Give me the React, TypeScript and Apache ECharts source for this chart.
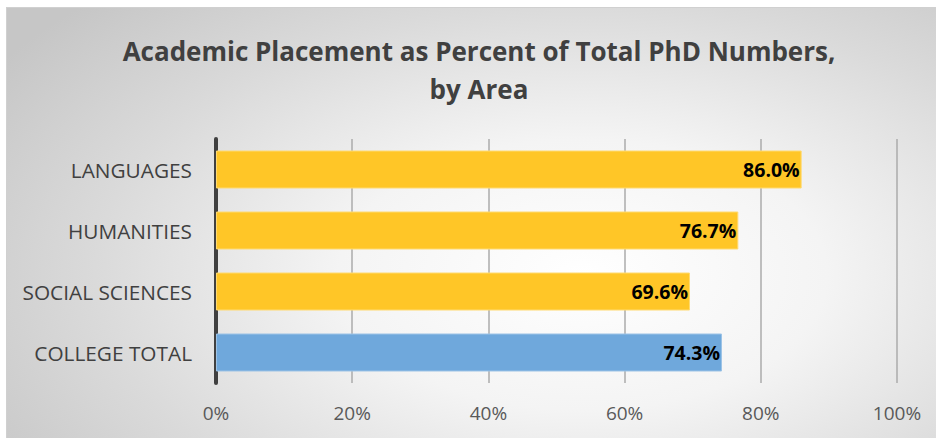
import React, { useEffect, useRef } from "react";
import * as echarts from "echarts";

const categories = ["COLLEGE TOTAL", "SOCIAL SCIENCES", "HUMANITIES", "LANGUAGES"];
const values = [74.3, 69.6, 76.7, 86.0];
const barColors = ["#6FA8DC", "#FFC627", "#FFC627", "#FFC627"];
const borderColors = ["#9DC3E6", "#FFDA70", "#FFDA70", "#FFDA70"];
const titleLines = ["Academic Placement as Percent of Total PhD Numbers,", "by Area"];

export default function App() {
  const ref = useRef<HTMLDivElement>(null);
  useEffect(() => {
    if (!ref.current) return;
    const chart = echarts.init(ref.current, undefined, { renderer: "svg" });
    chart.setOption({
      animation: false,
      backgroundColor: "transparent",
      graphic: titleLines.map((t, i) => ({
        type: "text",
        x: 472,
        y: 43 + i * 38,
        style: {
          text: t,
          fontFamily: "Open Sans",
          fontWeight: "bold",
          fontSize: 26,
          fill: "#404040",
          textAlign: "center",
          textVerticalAlign: "middle",
        },
      })),
      grid: { left: 209, right: 39, top: 131, bottom: 55, containLabel: false },
      xAxis: {
        type: "value",
        min: 0,
        max: 100,
        interval: 20,
        axisLine: { show: false },
        axisTick: { show: false },
        splitLine: { show: true, lineStyle: { color: "#ABABAB", width: 1.5 } },
        axisLabel: {
          formatter: "{value}%",
          fontFamily: "Open Sans",
          fontSize: 19,
          color: "#595959",
          margin: 20,
        },
      },
      yAxis: {
        type: "category",
        data: categories,
        axisLine: { show: true, lineStyle: { color: "#404040", width: 4 } },
        axisTick: { show: false },
        axisLabel: {
          fontFamily: "Open Sans",
          fontSize: 20.8,
          color: "#404040",
          margin: 24,
        },
      },
      series: [
        {
          type: "bar",
          data: values.map((v, i) => ({
            value: v,
            itemStyle: { color: barColors[i], borderColor: borderColors[i], borderWidth: 1 },
          })),
          barWidth: 38,
          label: {
            show: true,
            position: "insideRight",
            formatter: (p: any) => p.value.toFixed(1) + "%",
            fontFamily: "Open Sans",
            fontWeight: "bold",
            fontSize: 19.5,
            color: "#000000",
            distance: 2,
          },
        },
      ],
    });
    return () => chart.dispose();
  }, []);
  return (
    <div
      ref={ref}
      style={{
        position: "absolute",
        left: 6,
        top: 7,
        width: 930,
        height: 431,
        boxSizing: "border-box",
        borderTop: "1px solid #D0D0D0",
        borderLeft: "1px solid #D0D0D0",
        background: "radial-gradient(ellipse 75% 90% at 62% 62%, #FFFFFF 0%, #F4F4F4 35%, #DADADA 70%, #C6C6C6 100%)",
      }}
    />
  );
}
